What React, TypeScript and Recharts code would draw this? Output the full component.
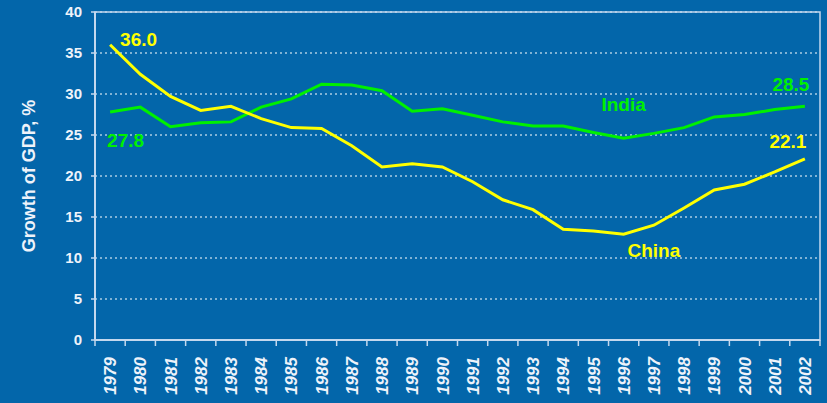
import {
  LineChart,
  Line,
  XAxis,
  YAxis,
  CartesianGrid,
  ReferenceArea,
  ReferenceDot,
  Label,
} from "recharts";

const BG = "#0366aa";
const AXIS = "#c4d8ee";
const TEXT = "#eef3fa";
const CHINA = "#ffff00";
const INDIA = "#00f000";
const FONT = "'Liberation Sans', Arial, sans-serif";

const YEARS = [
  "1979", "1980", "1981", "1982", "1983", "1984", "1985", "1986",
  "1987", "1988", "1989", "1990", "1991", "1992", "1993", "1994",
  "1995", "1996", "1997", "1998", "1999", "2000", "2001", "2002",
];
const CHINA_VALUES = [
  36.0, 32.4, 29.7, 28.0, 28.5, 27.0, 25.9, 25.8, 23.7, 21.1, 21.5, 21.1,
  19.3, 17.1, 15.9, 13.5, 13.3, 12.9, 14.0, 16.1, 18.3, 19.0, 20.5, 22.1,
];
const INDIA_VALUES = [
  27.8, 28.4, 26.0, 26.5, 26.6, 28.4, 29.4, 31.2, 31.1, 30.4, 27.9, 28.2,
  27.4, 26.6, 26.1, 26.1, 25.3, 24.6, 25.2, 25.9, 27.2, 27.5, 28.1, 28.5,
];
const Y_TICKS = [0, 5, 10, 15, 20, 25, 30, 35, 40];

const data = YEARS.map((year, i) => ({
  year,
  china: CHINA_VALUES[i],
  india: INDIA_VALUES[i],
}));

const TICK_GAP = 17;

// rotated year label, plus the small tick mark on the band's left edge
const YearTick = (props: any) => {
  const { x, y, payload, index } = props;
  const half = payload.offset || 0;
  const axisY = y - TICK_GAP;
  const isLast = index === YEARS.length - 1;
  return (
    <g>
      <line x1={x - half} x2={x - half} y1={axisY} y2={axisY + 6} stroke={AXIS} strokeWidth={1.5} />
      {isLast && (
        <line x1={x + half} x2={x + half} y1={axisY} y2={axisY + 6} stroke={AXIS} strokeWidth={1.5} />
      )}
      <text
        x={x}
        y={y}
        transform={`rotate(-90, ${x}, ${y})`}
        textAnchor="end"
        dy="0.36em"
        fill={TEXT}
        fontSize={17}
        fontWeight="bold"
        fontStyle="italic"
        fontFamily={FONT}
      >
        {payload.value}
      </text>
    </g>
  );
};

// value labels at first and last point of a series
const endLabels =
  (color: string, first: [number, number], last: [number, number]) =>
  (props: any) => {
    const { x, y, value, index } = props;
    let off: [number, number] | null = null;
    let anchor = "start";
    if (index === 0) off = first;
    if (index === YEARS.length - 1) {
      off = last;
      anchor = "middle";
    }
    if (!off) return null;
    return (
      <text
        key={`lbl-${index}`}
        x={x + off[0]}
        y={y + off[1]}
        textAnchor={anchor}
        fill={color}
        fontSize={19}
        fontWeight="bold"
        fontFamily={FONT}
      >
        {Number(value).toFixed(1)}
      </text>
    );
  };

export default function App() {
  return (
    <div
      style={{
        position: "absolute",
        left: 0,
        top: 0,
        width: 827,
        height: 403,
        background: BG,
        fontFamily: FONT,
      }}
    >
      <LineChart
        width={827}
        height={403}
        data={data}
        margin={{ top: 12, right: 7, bottom: 0, left: 0 }}
      >
        <CartesianGrid
          vertical={false}
          stroke="#ffffff"
          strokeDasharray="2 3"
          strokeWidth={1}
        />
        <XAxis
          dataKey="year"
          scale="band"
          interval={0}
          tick={<YearTick />}
          tickLine={false}
          tickSize={0}
          tickMargin={TICK_GAP}
          axisLine={{ stroke: AXIS, strokeWidth: 2 }}
          height={63}
        />
        <YAxis
          domain={[0, 40]}
          ticks={Y_TICKS}
          interval={0}
          width={95}
          tick={{ fill: TEXT, fontSize: 15, fontWeight: "bold", fontFamily: FONT }}
          tickLine={{ stroke: AXIS, strokeWidth: 1.5 }}
          tickSize={4}
          tickMargin={9}
          axisLine={{ stroke: AXIS, strokeWidth: 2 }}
        >
          <Label
            value="Growth of GDP, %"
            angle={-90}
            position="insideLeft"
            offset={29}
            style={{ textAnchor: "middle" }}
            fill={TEXT}
            fontSize={18}
            fontWeight="bold"
            fontFamily={FONT}
          />
        </YAxis>
        <ReferenceArea
          y1={0}
          y2={40}
          fill="none"
          stroke={AXIS}
          strokeWidth={1.5}
          ifOverflow="visible"
        />
        <Line
          dataKey="india"
          stroke={INDIA}
          strokeWidth={3}
          dot={false}
          isAnimationActive={false}
          label={endLabels(INDIA, [-3, 35], [-14, -15])}
        />
        <Line
          dataKey="china"
          stroke={CHINA}
          strokeWidth={3}
          dot={false}
          isAnimationActive={false}
          label={endLabels(CHINA, [10, 1], [-17, -11])}
        />
        <ReferenceDot
          x="1996"
          y={28.8}
          r={0}
          fill="none"
          stroke="none"
          label={{
            value: "India",
            position: "center",
            fill: INDIA,
            fontSize: 19,
            fontWeight: "bold",
            fontFamily: FONT,
          }}
        />
        <ReferenceDot
          x="1997"
          y={10.9}
          r={0}
          fill="none"
          stroke="none"
          label={{
            value: "China",
            position: "center",
            fill: CHINA,
            fontSize: 19,
            fontWeight: "bold",
            fontFamily: FONT,
          }}
        />
      </LineChart>
    </div>
  );
}
